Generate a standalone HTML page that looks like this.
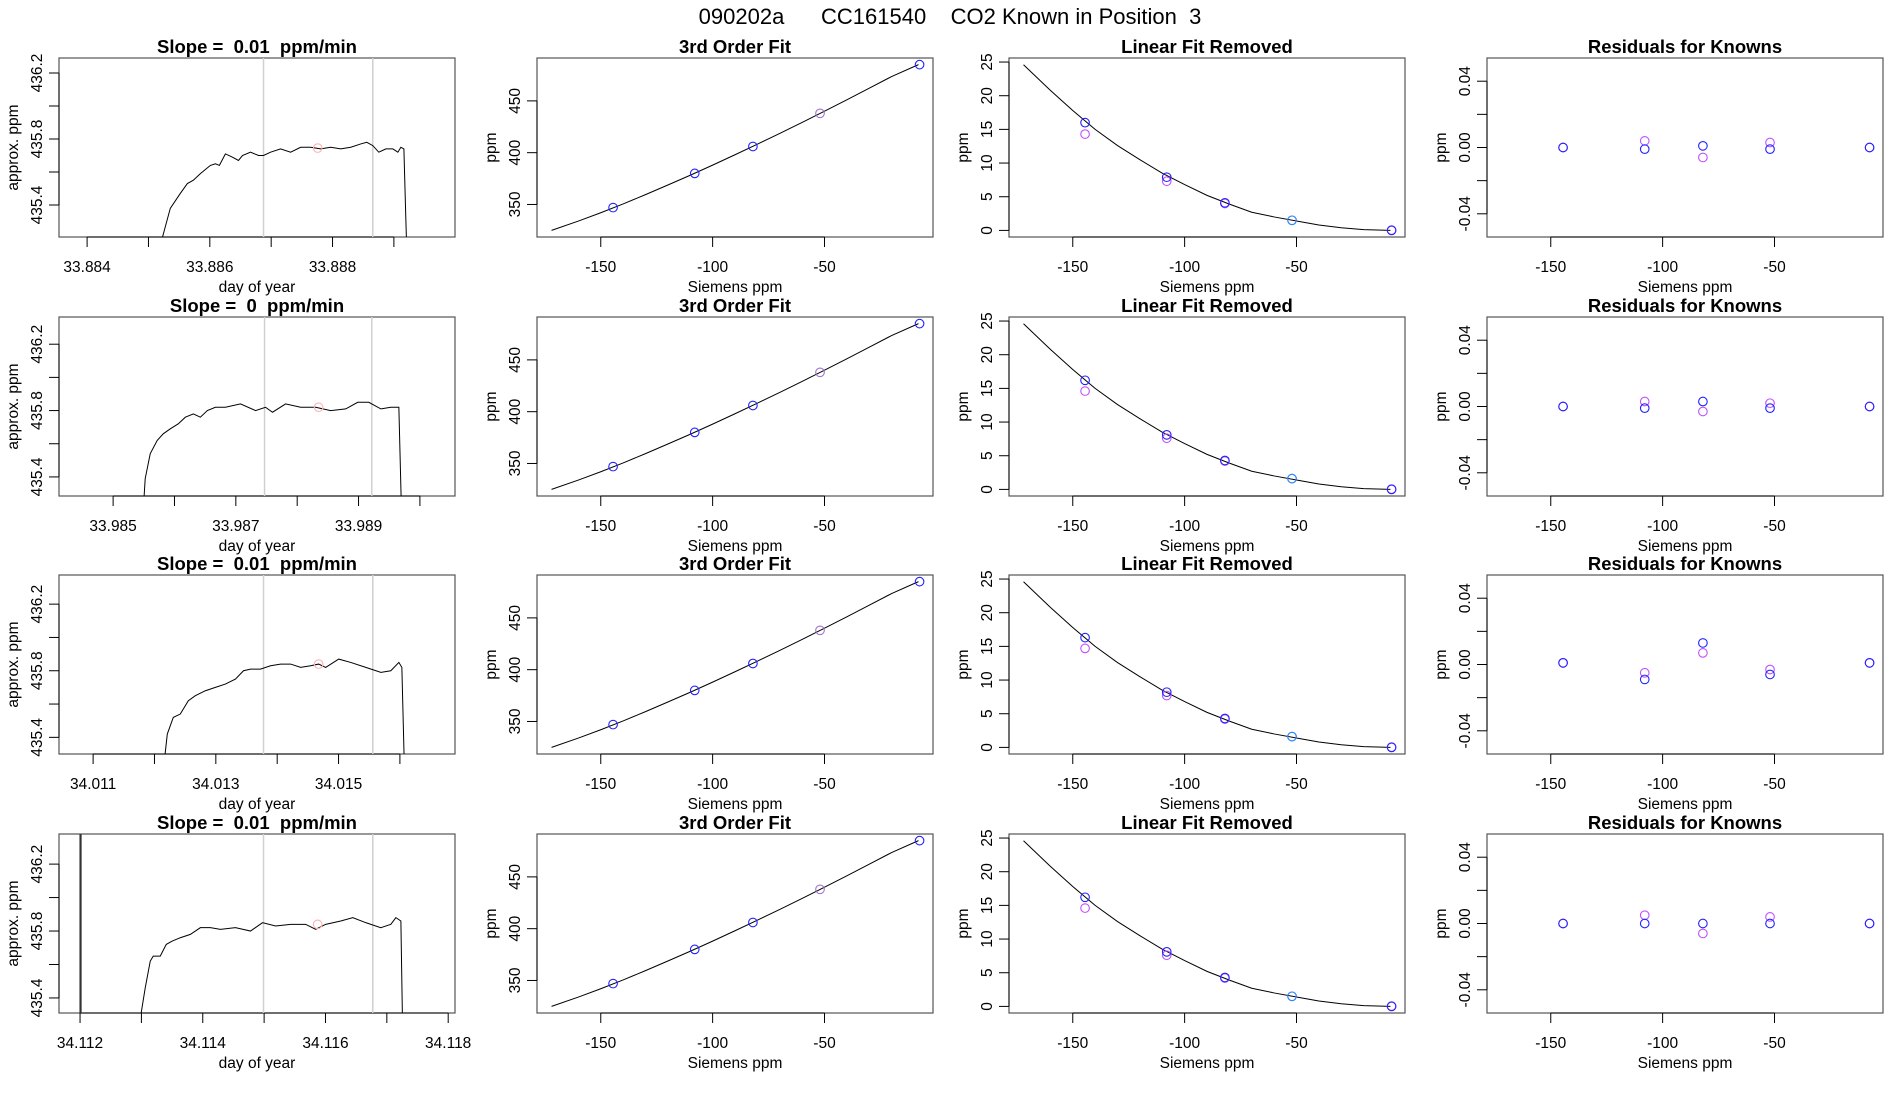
<!DOCTYPE html>
<html><head><meta charset="utf-8">
<style>
html,body{margin:0;padding:0;background:#fff;}
svg{display:block;font-family:"Liberation Sans",sans-serif;}
text{white-space:pre;}
</style></head>
<body>
<svg id="chart" width="1900" height="1100" viewBox="0 0 1900 1100">
<text x="950" y="24" font-size="22" text-anchor="middle" xml:space="preserve">090202a      CC161540    CO2 Known in Position  3</text>
</svg>
<script>
// ---------- data ----------
const rowTops = [58, 317, 575, 834];
const colLefts = [59, 537, 1009, 1487];
const slopeLabels = ["0.01", "0", "0.01", "0.01"];

// Panel 1 (time series) per row
const timeRanges = [[33.883542, 33.889996], [33.984118, 33.990572], [34.010444, 34.016898], [34.111657, 34.118111]];
const ppmRanges = [[435.206, 436.291], [435.285, 436.364], [435.300, 436.375], [435.310, 436.380]];
const timeTicks = [
  [33.884, 33.885, 33.886, 33.887, 33.888, 33.889],
  [33.985, 33.986, 33.987, 33.988, 33.989, 33.990],
  [34.011, 34.012, 34.013, 34.014, 34.015, 34.016],
  [34.112, 34.113, 34.114, 34.115, 34.116, 34.117, 34.118]
];
const timeTickLabels = [
  ["33.884", "", "33.886", "", "33.888", ""],
  ["33.985", "", "33.987", "", "33.989", ""],
  ["34.011", "", "34.013", "", "34.015", ""],
  ["34.112", "", "34.114", "", "34.116", "", "34.118"]
];
const ppmTicks = [435.4, 435.6, 435.8, 436.0, 436.2];
const ppmTickLabels = ["435.4", "", "435.8", "", "436.2"];

const trace1T = [33.885225,33.885356,33.885519,33.885634,33.885732,33.885846,33.886009,33.886091,33.886156,33.886254,33.886369,33.886467,33.886532,33.886663,33.886794,33.886875,33.886990,33.887153,33.887317,33.887480,33.887643,33.887807,33.887970,33.888134,33.888297,33.888460,33.888558,33.888656,33.888754,33.888869,33.888983,33.889065,33.889114,33.889163,33.889196,33.889212];
const trace1V = [435.2,435.38,435.47,435.53,435.55,435.59,435.64,435.65,435.64,435.71,435.69,435.67,435.70,435.72,435.70,435.70,435.72,435.74,435.72,435.75,435.75,435.74,435.75,435.74,435.75,435.77,435.78,435.76,435.72,435.74,435.74,435.72,435.75,435.74,435.3,435.1];
const trace2T = [33.985491,33.985523,33.985605,33.985719,33.985817,33.985932,33.986062,33.986177,33.986308,33.986422,33.986536,33.986667,33.986830,33.987076,33.987321,33.987484,33.987598,33.987811,33.988056,33.988301,33.988546,33.988791,33.988987,33.989167,33.989363,33.989526,33.989657,33.989706];
const trace2V = [435.2,435.39,435.54,435.62,435.66,435.69,435.72,435.76,435.78,435.76,435.80,435.82,435.82,435.84,435.80,435.82,435.79,435.84,435.82,435.82,435.80,435.81,435.85,435.85,435.81,435.82,435.82,435.1];
const trace3T = [34.012143,34.012209,34.012307,34.012421,34.012552,34.012666,34.012830,34.012993,34.013156,34.013320,34.013451,34.013565,34.013728,34.013892,34.014055,34.014219,34.014382,34.014545,34.014676,34.014790,34.015003,34.015199,34.015444,34.015689,34.015852,34.015983,34.016032,34.016081];
const trace3V = [435.2,435.42,435.52,435.54,435.62,435.65,435.68,435.70,435.72,435.75,435.80,435.81,435.81,435.83,435.84,435.84,435.82,435.83,435.84,435.82,435.87,435.85,435.82,435.79,435.80,435.85,435.82,435.1];
const trace4T = [34.112948,34.113062,34.113144,34.113193,34.113307,34.113405,34.113503,34.113634,34.113798,34.113961,34.114124,34.114288,34.114533,34.114778,34.114974,34.115186,34.115432,34.115677,34.115840,34.116003,34.116249,34.116445,34.116657,34.116902,34.117065,34.117147,34.117229,34.117262];
const trace4V = [435.2,435.46,435.62,435.65,435.65,435.72,435.74,435.76,435.78,435.82,435.82,435.81,435.82,435.80,435.85,435.83,435.84,435.84,435.81,435.84,435.86,435.88,435.85,435.82,435.84,435.88,435.86,435.1];
const tracesT = [trace1T, trace2T, trace3T, trace4T];
const tracesV = [trace1V, trace2V, trace3V, trace4V];
const grayLines = [[33.886875, 33.888656], [33.987468, 33.989216], [34.013777, 34.015558], [34.114990, 34.116771]];
const blackLines = [[], [], [], [34.112000, 34.112016]];
const markerT = [33.887758, 33.988350, 34.014676, 34.115873];
const markerV = [435.745, 435.82, 435.84, 435.84];

// Siemens x axis shared by panels 2-4
const siemensRange = [-178.5, -1.5];
const siemensTicks = [-150, -100, -50];
const knownX = [-144.5, -108, -82, -52, -7.5];

// Panel 2: 3rd order fit
const fitRange = [318.6, 491.4];
const fitTicks = [350, 400, 450];
const fitCurveX = [-172,-160,-150,-140,-130,-120,-110,-100,-90,-80,-70,-60,-50,-40,-30,-20,-8];
const fitCurveY = [325,334,342,350.5,359.5,368.8,378.2,388,398,408.2,418.6,429.2,440,451,462.3,473.5,485];
const fitPointY = [347, 380, 406, 438, 485];
const fitPointColor = ["#2222ff", "#2222ff", "#2222ff", "#a070d0", "#2222ff"];

// Panel 3: linear fit removed
const linRange = [-0.98, 25.6];
const linTicks = [0, 5, 10, 15, 20, 25];
const linCurveY = [24.6,20.8,17.8,15.0,12.6,10.5,8.5,6.8,5.2,3.9,2.7,2.0,1.4,0.8,0.4,0.12,0];
const linBlue = [[16.0,7.9,4.1,1.5,0],[16.2,8.1,4.3,1.6,0],[16.3,8.2,4.3,1.6,0],[16.2,8.1,4.3,1.5,0]];
const linPurple = [[14.3,7.3,4.0,1.5,0.05],[14.6,7.6,4.2,1.6,0.05],[14.7,7.7,4.2,1.6,0.05],[14.6,7.6,4.2,1.5,0.05]];

// Panel 4: residuals
const resRange = [-0.054, 0.054];
const resTicks = [-0.04, -0.02, 0, 0.02, 0.04];
const resTickLabels = ["-0.04", "", "0.00", "", "0.04"];
const resBlue = [[0,-0.001,0.001,-0.001,0],[0,-0.001,0.003,-0.001,0],[0.001,-0.009,0.013,-0.006,0.001],[0,0,0,0,0]];
const resPurple = [[0,0.004,-0.006,0.003,0],[0,0.003,-0.003,0.002,0],[0.001,-0.005,0.007,-0.003,0.001],[0,0.005,-0.006,0.004,0]];

// ---------- drawing ----------
const NS = "http://www.w3.org/2000/svg";
const svg = document.getElementById("chart");
const W = 396, H = 179;
function mk(tag, attrs, parent) {
  const e = document.createElementNS(NS, tag);
  for (const k in attrs) e.setAttribute(k, attrs[k]);
  (parent || svg).appendChild(e);
  return e;
}
function scale(d0, d1, r0, r1) { return v => r0 + (v - d0) / (d1 - d0) * (r1 - r0); }

function panel(left, top, title, xr, yr, xTicks, xLabels, yTicks, yLabels, xTitle, yTitle, nm) {
  const g = mk("g", {});
  
  
  const sx = scale(xr[0], xr[1], left, left + W);
  const sy = scale(yr[0], yr[1], top + H, top);
  const box = mk("rect", {x: left, y: top, width: W, height: H, fill: "none", stroke: "#555", "stroke-width": 1.2}, g);
  
  
  const t = mk("text", {x: left + W / 2, y: top - 5, "font-size": 18.5, "font-weight": "bold", "text-anchor": "middle", "xml:space": "preserve"}, g);
  t.textContent = title;
  
  
  // x axis
  const xa = mk("g", {}, g);
  
  
  const xp = xTicks.map(sx);
  mk("line", {x1: xp[0], x2: xp[xp.length - 1], y1: top + H, y2: top + H, stroke: "#000"}, xa);
  xTicks.forEach((v, i) => {
    mk("line", {x1: xp[i], x2: xp[i], y1: top + H, y2: top + H + 10, stroke: "#000"}, xa);
    if (xLabels[i]) {
      const l = mk("text", {x: xp[i], y: top + H + 35, "font-size": 15.5, "text-anchor": "middle"}, xa);
      l.textContent = xLabels[i];
      
      
    }
  });
  const xt = mk("text", {x: left + W / 2, y: top + H + 55, "font-size": 15.5, "text-anchor": "middle"}, g);
  xt.textContent = xTitle;
  
  
  // y axis
  const ya = mk("g", {}, g);
  
  
  const yp = yTicks.map(sy);
  mk("line", {x1: left, x2: left, y1: yp[0], y2: yp[yp.length - 1], stroke: "#000"}, ya);
  yTicks.forEach((v, i) => {
    mk("line", {x1: left - 10, x2: left, y1: yp[i], y2: yp[i], stroke: "#000"}, ya);
    if (yLabels[i]) {
      const l = mk("text", {x: 0, y: 0, "font-size": 15.5, "text-anchor": "middle", transform: `translate(${left - 17},${yp[i]}) rotate(-90)`}, ya);
      l.textContent = yLabels[i];
      
      
    }
  });
  const yt = mk("text", {x: 0, y: 0, "font-size": 15.5, "text-anchor": "middle", transform: `translate(${left - 41},${top + H / 2}) rotate(-90)`}, g);
  yt.textContent = yTitle;
  
  
  const clipId = "c" + Math.round(left) + "_" + Math.round(top);
  const cp = mk("clipPath", {id: clipId}, g);
  mk("rect", {x: left, y: top, width: W, height: H}, cp);
  const plot = mk("g", {"clip-path": `url(#${clipId})`}, g);
  
  
  return {sx, sy, plot, g};
}
function circle(p, cx, cy, color, name) {
  const c = mk("circle", {cx, cy, r: 4.3, fill: "none", stroke: color, "stroke-width": 1.1}, p);
  
  
}
function polyline(p, xs, ys, color, w, name) {
  const pl = mk("polyline", {points: xs.map((x, i) => x.toFixed(2) + "," + ys[i].toFixed(2)).join(" "), fill: "none", stroke: color, "stroke-width": w}, p);
  
  
}

for (let r = 0; r < 4; r++) {
  const top = rowTops[r];
  // panel 1
  const a = panel(colLefts[0], top, `Slope =  ${slopeLabels[r]}  ppm/min`, timeRanges[r], ppmRanges[r],
    timeTicks[r], timeTickLabels[r], ppmTicks, ppmTickLabels, "day of year", "approx. ppm", "time-series-panel");
  grayLines[r].forEach(t => {
    const l = mk("line", {x1: a.sx(t), x2: a.sx(t), y1: top, y2: top + H, stroke: "#d0d0d0", "stroke-width": 1.5}, a.plot);
    
    
  });
  blackLines[r].forEach(t => {
    const l = mk("line", {x1: a.sx(t), x2: a.sx(t), y1: top, y2: top + H, stroke: "#333", "stroke-width": 1.2}, a.plot);
    
    
  });
  polyline(a.plot, tracesT[r].map(a.sx), tracesV[r].map(a.sy), "#000", 1, "ppm-trace");
  circle(a.plot, a.sx(markerT[r]), a.sy(markerV[r]), "#ffb0b0", "mean-marker");

  // panel 2
  const b = panel(colLefts[1], top, "3rd Order Fit", siemensRange, fitRange, siemensTicks, siemensTicks.map(String),
    fitTicks, fitTicks.map(String), "Siemens ppm", "ppm", "third-order-fit-panel");
  polyline(b.plot, fitCurveX.map(b.sx), fitCurveY.map(b.sy), "#000", 1, "fit-curve");
  knownX.forEach((x, i) => circle(b.plot, b.sx(x), b.sy(fitPointY[i]), fitPointColor[i], "known-point"));

  // panel 3
  const c = panel(colLefts[2], top, "Linear Fit Removed", siemensRange, linRange, siemensTicks, siemensTicks.map(String),
    linTicks, linTicks.map(String), "Siemens ppm", "ppm", "linear-fit-removed-panel");
  polyline(c.plot, fitCurveX.map(c.sx), linCurveY.map(c.sy), "#000", 1, "nonlinear-curve");
  knownX.forEach((x, i) => circle(c.plot, c.sx(x), c.sy(linPurple[r][i]), "#c050ff", "purple-point"));
  knownX.forEach((x, i) => circle(c.plot, c.sx(x), c.sy(linBlue[r][i]), i === 3 ? "#2090ff" : "#2222ff", "blue-point"));

  // panel 4
  const d = panel(colLefts[3], top, "Residuals for Knowns", siemensRange, resRange, siemensTicks, siemensTicks.map(String),
    resTicks, resTickLabels, "Siemens ppm", "ppm", "residuals-panel");
  knownX.forEach((x, i) => circle(d.plot, d.sx(x), d.sy(resPurple[r][i]), "#c050ff", "purple-residual"));
  knownX.forEach((x, i) => circle(d.plot, d.sx(x), d.sy(resBlue[r][i]), "#2222ff", "blue-residual"));
}
</script>
</body></html>
